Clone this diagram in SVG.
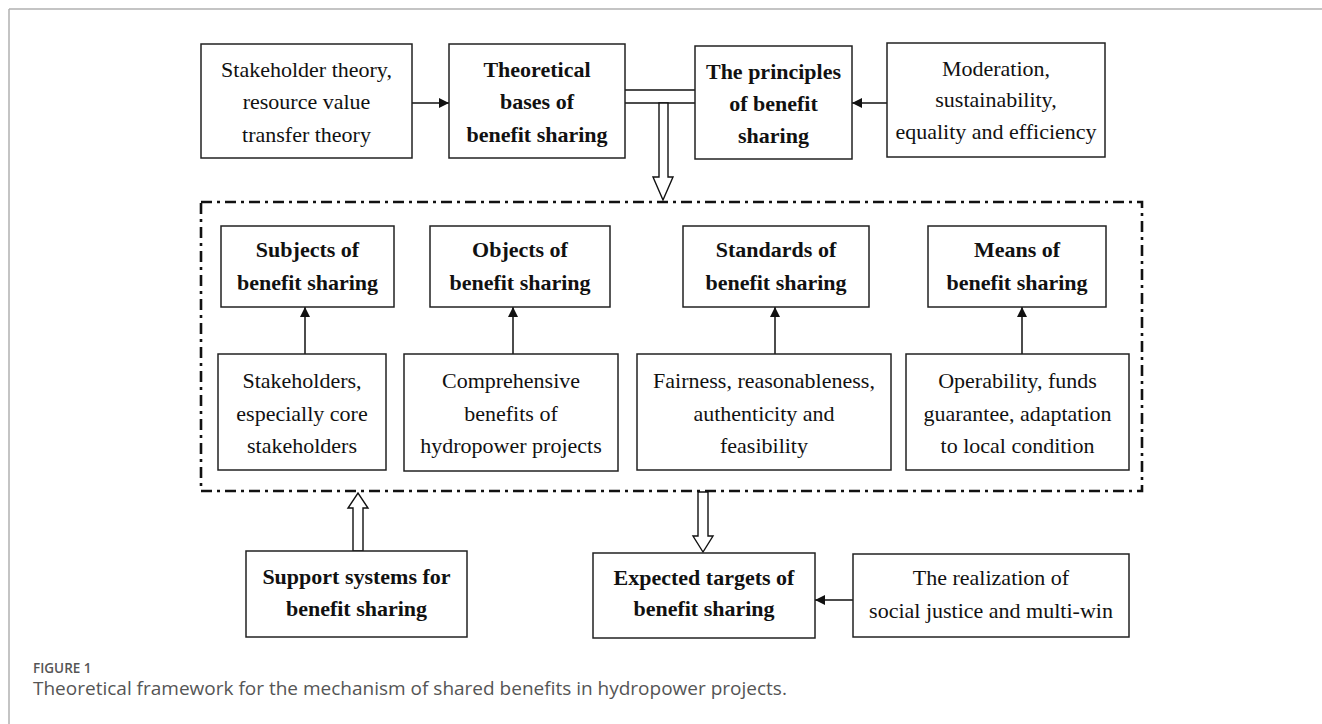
<svg xmlns="http://www.w3.org/2000/svg" width="1322" height="724" viewBox="0 0 1322 724">
<style>
.box{fill:#fff;stroke:#222;stroke-width:1.5}
.t{font-family:"Liberation Serif","Times New Roman",serif;font-size:22px;fill:#111;text-anchor:middle}
.b{font-weight:bold}
.ln{stroke:#111;stroke-width:1.5;fill:none}
.hollow{fill:#fff;stroke:#111;stroke-width:1.4}
.cap{font-family:"Open Sans","Liberation Sans",sans-serif;fill:#555}
</style>
<defs>
<marker id="ah" viewBox="0 0 10 10" refX="10" refY="5" markerWidth="10" markerHeight="10" markerUnits="userSpaceOnUse" orient="auto">
<path d="M0,0 L10,5 L0,10 Z" fill="#111"/>
</marker>
</defs>
<rect width="1322" height="724" fill="#fff"/>
<g id="frame">
<line x1="9" y1="9" x2="1322" y2="9" stroke="#b0b0b0" stroke-width="1.5"/>
<line x1="9" y1="9" x2="9" y2="724" stroke="#b0b0b0" stroke-width="1.5"/>
</g>
<g id="group-box">
<rect x="201" y="202" width="941" height="289" fill="none" stroke="#111" stroke-width="2.6" stroke-dasharray="11 5 3 5"/>
</g>
<g id="connectors">
<line class="ln" x1="412" y1="103" x2="449" y2="103" marker-end="url(#ah)"/>
<line class="ln" x1="887" y1="103" x2="852" y2="103" marker-end="url(#ah)"/>
<line class="ln" x1="625" y1="90" x2="695" y2="90"/>
<line class="ln" x1="625" y1="103" x2="695" y2="103"/>
<polygon class="hollow" points="659,103 659,177 653,177 663,200 673,177 668,177 668,103"/>
<line class="ln" x1="305" y1="354" x2="305" y2="307" marker-end="url(#ah)"/>
<line class="ln" x1="513" y1="354" x2="513" y2="307" marker-end="url(#ah)"/>
<line class="ln" x1="775" y1="354" x2="775" y2="307" marker-end="url(#ah)"/>
<line class="ln" x1="1022" y1="354" x2="1022" y2="307" marker-end="url(#ah)"/>
<polygon class="hollow" points="353,551 353,508 348,508 358,493 368,508 363,508 363,551"/>
<polygon class="hollow" points="698,492 698,536 693,536 703,552 713,536 708,536 708,492"/>
<line class="ln" x1="853" y1="600" x2="815" y2="600" marker-end="url(#ah)"/>
</g>
<g id="n-stakeholder-theory">
<rect class="box" x="201" y="44" width="211" height="114"/>
<text class="t" x="306.5" y="77">Stakeholder theory,</text>
<text class="t" x="306.5" y="109">resource value</text>
<text class="t" x="306.5" y="142">transfer theory</text>
</g>
<g id="n-theoretical-bases">
<rect class="box" x="449" y="44" width="176" height="114"/>
<text class="t b" x="537" y="77">Theoretical</text>
<text class="t b" x="537" y="109">bases of</text>
<text class="t b" x="537" y="142">benefit sharing</text>
</g>
<g id="n-principles">
<rect class="box" x="695" y="46" width="157" height="113"/>
<text class="t b" x="773.5" y="79">The principles</text>
<text class="t b" x="773.5" y="111">of benefit</text>
<text class="t b" x="773.5" y="143">sharing</text>
</g>
<g id="n-moderation">
<rect class="box" x="887" y="43" width="218" height="114"/>
<text class="t" x="996" y="76">Moderation,</text>
<text class="t" x="996" y="107">sustainability,</text>
<text class="t" x="996" y="139">equality and efficiency</text>
</g>
<g id="n-subjects">
<rect class="box" x="221" y="226" width="173" height="81"/>
<text class="t b" x="307.5" y="257">Subjects of</text>
<text class="t b" x="307.5" y="290">benefit sharing</text>
</g>
<g id="n-objects">
<rect class="box" x="430" y="226" width="180" height="81"/>
<text class="t b" x="520" y="257">Objects of</text>
<text class="t b" x="520" y="290">benefit sharing</text>
</g>
<g id="n-standards">
<rect class="box" x="683" y="226" width="186" height="81"/>
<text class="t b" x="776" y="257">Standards of</text>
<text class="t b" x="776" y="290">benefit sharing</text>
</g>
<g id="n-means">
<rect class="box" x="928" y="226" width="178" height="81"/>
<text class="t b" x="1017" y="257">Means of</text>
<text class="t b" x="1017" y="290">benefit sharing</text>
</g>
<g id="n-stakeholders">
<rect class="box" x="218" y="354" width="168" height="116"/>
<text class="t" x="302" y="388">Stakeholders,</text>
<text class="t" x="302" y="421">especially core</text>
<text class="t" x="302" y="453">stakeholders</text>
</g>
<g id="n-comprehensive">
<rect class="box" x="404" y="354" width="214" height="117"/>
<text class="t" x="511" y="388">Comprehensive</text>
<text class="t" x="511" y="421">benefits of</text>
<text class="t" x="511" y="453">hydropower projects</text>
</g>
<g id="n-fairness">
<rect class="box" x="637" y="354" width="254" height="116"/>
<text class="t" x="764" y="388">Fairness, reasonableness,</text>
<text class="t" x="764" y="421">authenticity and</text>
<text class="t" x="764" y="453">feasibility</text>
</g>
<g id="n-operability">
<rect class="box" x="906" y="354" width="223" height="116"/>
<text class="t" x="1017.5" y="388">Operability, funds</text>
<text class="t" x="1017.5" y="421">guarantee, adaptation</text>
<text class="t" x="1017.5" y="453">to local condition</text>
</g>
<g id="n-support">
<rect class="box" x="246" y="551" width="221" height="86"/>
<text class="t b" x="356.5" y="584">Support systems for</text>
<text class="t b" x="356.5" y="616">benefit sharing</text>
</g>
<g id="n-expected">
<rect class="box" x="593" y="553" width="222" height="85"/>
<text class="t b" x="704" y="585">Expected targets of</text>
<text class="t b" x="704" y="616">benefit sharing</text>
</g>
<g id="n-realization">
<rect class="box" x="853" y="554" width="276" height="83"/>
<text class="t" x="991" y="585">The realization of</text>
<text class="t" x="991" y="618">social justice and multi-win</text>
</g>
<g id="caption">
<text class="cap" x="33" y="673" font-size="13.5" font-weight="600">FIGURE 1</text>
<text class="cap" x="33" y="695" font-size="19">Theoretical framework for the mechanism of shared benefits in hydropower projects.</text>
</g>
</svg>
